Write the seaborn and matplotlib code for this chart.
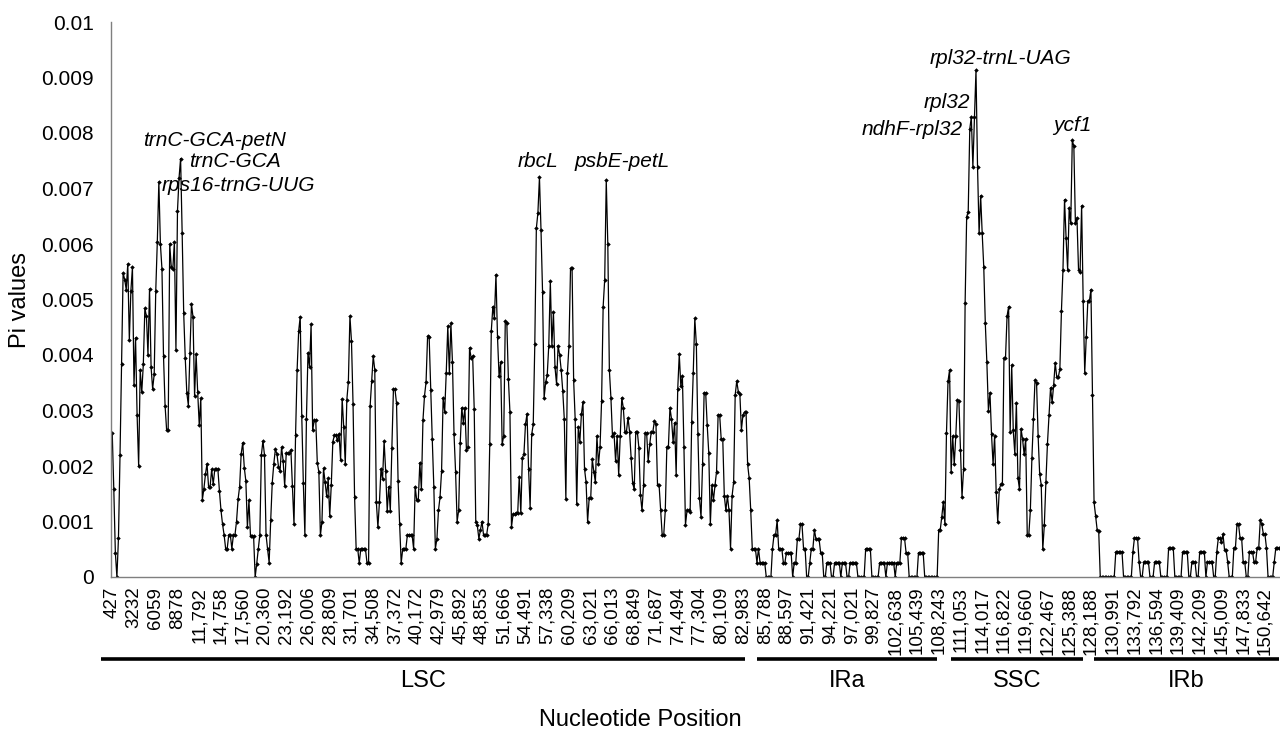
import numpy as np
import pandas as pd
import matplotlib
matplotlib.use("Agg")
import matplotlib.pyplot as plt
import matplotlib.transforms as mtransforms
from matplotlib.ticker import FuncFormatter
import seaborn as sns

# Pi values (x 1000), one per window, by region
lsc_pi = [
    2.59, 1.58, 0.44, 0, 0.7, 2.19, 3.83, 5.48, 5.36, 5.18, 5.64, 4.27, 5.16, 5.58,
    3.46, 4.31, 2.92, 2.0, 3.73, 3.33, 3.83, 4.84, 4.7, 4.0, 5.19, 3.78, 3.39, 3.65,
    5.15, 6.03, 7.12, 6.0, 5.55, 3.98, 3.09, 2.65, 2.65, 6.0, 5.58, 5.55, 6.04, 4.09,
    6.6, 7.19, 7.54, 6.2, 4.75, 3.94, 3.32, 3.09, 4.04, 4.92, 4.68, 3.26, 4.01, 3.33,
    2.74, 3.22, 1.39, 1.59, 1.85, 2.04, 1.63, 1.63, 1.94, 1.67, 1.94, 1.94, 1.94, 1.55,
    1.2, 0.95, 0.76, 0.51, 0.51, 0.76, 0.76, 0.51, 0.76, 0.76, 1.0, 1.4, 1.63, 2.22,
    2.42, 1.97, 1.73, 0.9, 1.38, 0.73, 0.73, 0.73, 0, 0.24, 0.5, 0.76, 2.2, 2.45,
    2.2, 0.76, 0.5, 0.26, 1.02, 1.7, 2.04, 2.3, 2.22, 1.99, 1.91, 2.34, 2.09, 1.64,
    2.23, 2.23, 2.23, 2.29, 1.64, 0.95, 2.55, 3.73, 4.43, 4.69, 2.9, 1.7, 0.76, 2.85,
    4.04, 3.78, 4.55, 2.64, 2.82, 2.82, 2.06, 1.89, 0.75, 1.0, 1.96, 1.71, 1.46, 1.78,
    1.1, 1.66, 2.44, 2.55, 2.55, 2.46, 2.58, 2.11, 3.21, 2.7, 2.03, 3.19, 3.52, 4.7,
    4.25, 3.12, 1.44, 0.51, 0.51, 0.25, 0.51, 0.51, 0.51, 0.51, 0.25, 0.25, 3.08, 3.54,
    3.98, 3.73, 1.35, 0.9, 1.35, 1.95, 1.76, 2.45, 1.91, 1.19, 1.63, 1.19, 2.33, 3.38,
    3.38, 3.13, 1.73, 0.95, 0.25, 0.51, 0.51, 0.51, 0.76, 0.76, 0.76, 0.76, 0.51, 1.63,
    1.38, 1.38, 2.06, 1.58, 2.82,
    3.26, 3.51, 4.34, 4.32, 3.37, 2.48, 1.63, 0.51, 0.69, 1.2,
    1.44, 1.91, 3.23, 2.98, 3.68, 4.52, 3.68, 4.57, 3.87, 2.58,
    1.9, 1.0, 1.2, 2.41, 3.05, 2.78, 3.05, 2.29, 2.34, 4.13,
    3.95, 3.98, 3.03, 1.0, 0.93, 0.69, 0.85, 1.0, 0.76, 0.76, 0.76,
    0.95, 2.39, 4.43, 4.87, 4.67, 5.45, 4.32, 3.62, 3.87, 2.39,
    2.54, 4.61, 4.57, 3.57, 2.97, 0.9, 1.13, 1.13, 1.15, 1.15, 1.81,
    1.15, 2.15, 2.21, 2.75, 2.94, 1.94, 1.25, 2.57, 2.75,
    4.19, 6.28, 6.56, 7.2, 6.25, 5.13, 3.23, 3.51, 3.64, 4.17,
    5.33, 4.17, 4.77, 3.78, 3.48, 4.17, 4.0, 3.73, 3.35, 2.84,
    1.4, 3.68, 4.17, 5.56, 5.56, 3.55, 2.84, 1.31, 2.71, 2.44,
    2.93, 3.15,
    1.95, 1.71, 1.0, 1.42, 1.42, 2.12, 1.9, 1.71, 2.54, 2.03,
    2.34, 3.18, 4.87, 5.36, 7.15, 6.0, 3.73, 3.23, 2.54, 2.59,
    2.09, 2.54, 1.84, 2.54, 3.23, 3.04, 2.62, 2.62, 2.87, 2.62,
    2.14, 1.69, 1.58, 2.62, 2.62, 2.33, 1.48, 1.2, 1.65, 2.59,
    2.59, 2.09, 2.4, 2.62, 2.62, 2.81, 2.76, 1.66, 1.66, 1.2,
    0.76, 0.76, 1.2, 2.34, 2.34, 3.05, 2.85, 2.44, 2.78, 1.84,
    3.38, 4.01, 3.44, 3.63, 2.34, 0.94, 1.2, 1.2, 1.17, 2.8,
    3.68, 4.66, 4.19, 2.57, 1.42, 1.08, 2.04, 3.32, 3.32, 2.73,
    2.23, 0.95, 1.65, 1.38, 1.65, 1.9, 2.92, 2.92, 2.48, 2.48,
    1.46, 1.2, 1.46, 1.2, 0.51, 1.46, 1.71, 3.28, 3.53, 3.34,
    3.3, 2.65, 2.92, 2.97, 2.97, 2.03, 1.78,
]
ira_pi = [
    1.2, 0.51, 0.51, 0.51, 0.26, 0.51,
    0.26, 0.26, 0.26, 0.26, 0, 0, 0, 0, 0.51, 0.76,
    0.76, 1.02, 0.51, 0.51, 0.51, 0.26, 0.26, 0.44, 0.44, 0.44,
    0.44, 0, 0.26, 0.26, 0.68, 0.68, 0.95, 0.95, 0.51, 0.51,
    0, 0, 0.26, 0.51, 0.51, 0.85, 0.68, 0.68, 0.68, 0.44,
    0.44, 0, 0, 0.26, 0.26, 0.26, 0, 0, 0.26, 0.26,
    0.26, 0.26, 0, 0.26, 0.26, 0.26, 0, 0, 0.26, 0.26,
    0.26, 0.26, 0.26, 0, 0, 0, 0, 0, 0.51, 0.51,
    0.51, 0.51, 0, 0, 0, 0, 0, 0.26, 0.26, 0.26,
    0.26, 0, 0.26, 0.26, 0.26, 0.26, 0.26,
    0, 0.26, 0.26, 0.26, 0.7, 0.7, 0.7, 0.44, 0.44, 0,
    0, 0, 0, 0, 0, 0.44, 0.44, 0.44, 0.44, 0,
    0, 0, 0, 0, 0, 0, 0, 0,
]
ssc_pi = [
    0.85, 0.85,
    1.09, 1.35, 0.95, 2.59, 3.53, 3.73, 1.9, 2.54, 2.03, 2.54,
    3.19, 3.18, 2.28, 1.44, 1.94, 4.93, 6.49, 6.58, 8.07, 8.29,
    7.39, 8.29, 9.13, 7.39, 6.19, 6.87, 6.19, 5.59, 4.57, 3.87,
    3.0, 3.32, 2.57, 2.03, 2.54, 1.53, 1.0, 1.58, 1.67, 1.67,
    3.94, 3.94, 4.7, 4.87, 2.62, 3.82, 2.64, 2.22, 3.14, 1.79,
    1.58, 2.67, 2.48, 2.21, 2.49, 0.76, 0.76, 1.2, 2.15, 2.84,
    3.55, 3.49, 2.54, 1.85, 1.66, 0.5, 0.94, 1.71, 2.4, 2.92,
    3.41, 3.15, 3.46,
    3.86, 3.6, 3.6, 3.75, 4.79, 5.54, 6.8, 6.11, 5.54, 6.65,
    6.37, 7.87, 7.76, 6.37, 6.47, 5.54, 5.5, 6.69, 4.97, 3.68,
    4.32, 4.97, 4.97, 5.18, 3.28, 1.35, 1.1, 0.85, 0.83,
]
irb_pi = [
    0, 0, 0, 0, 0, 0, 0, 0, 0, 0,
    0.45, 0.45, 0.45, 0.45, 0.45, 0, 0, 0, 0, 0, 0,
    0.45, 0.7, 0.7, 0.7, 0.27, 0, 0, 0.27, 0.27, 0.27, 0.27, 0, 0, 0,
    0.27, 0.27, 0.27, 0.27, 0, 0, 0, 0, 0, 0.52, 0.52, 0.52, 0.52,
    0, 0, 0, 0, 0, 0.45, 0.45, 0.45, 0.45, 0, 0, 0.27, 0.27, 0.27, 0, 0,
    0.45, 0.45, 0.45, 0.45, 0, 0.27, 0.27, 0.27, 0.27, 0, 0,
    0.45, 0.7, 0.7, 0.63, 0.77, 0.49, 0.49, 0.27, 0, 0, 0,
    0.52, 0.52, 0.95, 0.95, 0.7, 0.7, 0.27, 0.27, 0, 0,
    0.45, 0.45, 0.45, 0.27, 0.27, 0.52, 0.52, 1.02, 0.95, 0.77, 0.77, 0.52,
    0, 0, 0, 0, 0.27, 0.52, 0.52, 0.52,
]

region_names = ["LSC", "IRa", "SSC", "IRb"]
region_pi = [lsc_pi, ira_pi, ssc_pi, irb_pi]

# category labels shown on every 14th window
tick_labels = [
    "427", "3232", "6059", "8878", "11,792", "14,758", "17,560", "20,360",
    "23,192", "26,006", "28,809", "31,701", "34,508", "37,372", "40,172",
    "42,979", "45,892", "48,853", "51,666", "54,491", "57,338", "60,209",
    "63,021", "66,013", "68,849", "71,687", "74,494", "77,304", "80,109",
    "82,983", "85,788", "88,597", "91,421", "94,221", "97,021", "99,827",
    "102,638", "105,439", "108,243", "111,053", "114,017", "116,822",
    "119,660", "122,467", "125,388", "128,188", "130,991", "133,792",
    "136,594", "139,409", "142,209", "145,009", "147,833", "150,642",
]
label_step = 14

# highlighted loci: (text, window index, Pi value of label centre)
loci = [
    ("trnC-GCA-petN", 66, 0.00787),
    ("trnC-GCA", 79, 0.00748),
    ("rps16-trnG-UUG", 81, 0.00706),
    ("rbcL", 274, 0.00748),
    ("psbE-petL", 328, 0.00748),
    ("rpl32-trnL-UAG", 572, 0.00935),
    ("rpl32", 537, 0.00855),
    ("ndhF-rpl32", 515, 0.00806),
    ("ycf1", 618, 0.00814),
]

# ---------------------------------------------------------------------------
pi = np.concatenate([np.asarray(r, dtype=float) for r in region_pi]) / 1000.0
df = pd.DataFrame({"window": np.arange(len(pi)), "pi": pi})
bounds = np.cumsum([0] + [len(r) for r in region_pi])

sns.set_theme(style="white")
plt.rcParams["font.family"] = ["Liberation Sans", "DejaVu Sans"]
plt.rcParams["text.color"] = "black"

fig = plt.figure(figsize=(12.8, 7.35), dpi=100)
ax = fig.add_axes([111 / 1280, 158 / 735, 1169 / 1280, 555 / 735])

sns.lineplot(data=df, x="window", y="pi", ax=ax, color="black", linewidth=0.9,
             marker="D", markersize=2.3, markeredgewidth=0, markerfacecolor="black")

ax.set_xlim(-0.8, len(pi) - 0.3)
ax.set_ylim(0, 0.01)
ax.set_yticks(np.arange(0, 0.0105, 0.001))
ax.yaxis.set_major_formatter(FuncFormatter(lambda v, _: f"{round(v, 4):g}"))
ax.set_xticks(np.arange(len(tick_labels)) * label_step)
ax.set_xticklabels(tick_labels, rotation=90)
ax.set_xlabel("")
ax.set_ylabel("")

for s in ["top", "right"]:
    ax.spines[s].set_visible(False)
for s in ["left", "bottom"]:
    ax.spines[s].set_color("#7f7f7f")
    ax.spines[s].set_linewidth(1.0)
ax.tick_params(axis="y", direction="out", length=4.5, width=1, color="#7f7f7f",
               pad=8, labelsize=15, labelcolor="black")
ax.tick_params(axis="x", direction="out", length=4, width=1, color="#7f7f7f",
               pad=3, labelsize=13.5, labelcolor="black")

for text, xi, yv in loci:
    ax.text(xi, yv, text, ha="center", va="center", fontsize=15, style="italic",
            color="black")

# region brackets below the tick labels
trans = mtransforms.blended_transform_factory(ax.transData, ax.transAxes)
pad_left = [-7, 4, 8, -4]
pad_right = [-4, -1, -11, -1]
for i, name in enumerate(region_names):
    x0 = bounds[i] + pad_left[i]
    x1 = bounds[i + 1] + pad_right[i]
    ax.plot([x0, x1], [-0.148, -0.148], color="black", linewidth=2.6,
            transform=trans, clip_on=False, solid_capstyle="butt")
    ax.text((x0 + x1) / 2, -0.187, name, transform=trans, ha="center",
            va="center", fontsize=17, color="black")

fig.text(0.5, 1 - 720 / 735, "Nucleotide Position", ha="center", va="center",
         fontsize=17, color="black")
fig.text(20 / 1280, 1 - 300 / 735, "Pi values", ha="center", va="center",
         rotation=90, fontsize=17, color="black")

fig.savefig("out.png", dpi=100, facecolor="white")
